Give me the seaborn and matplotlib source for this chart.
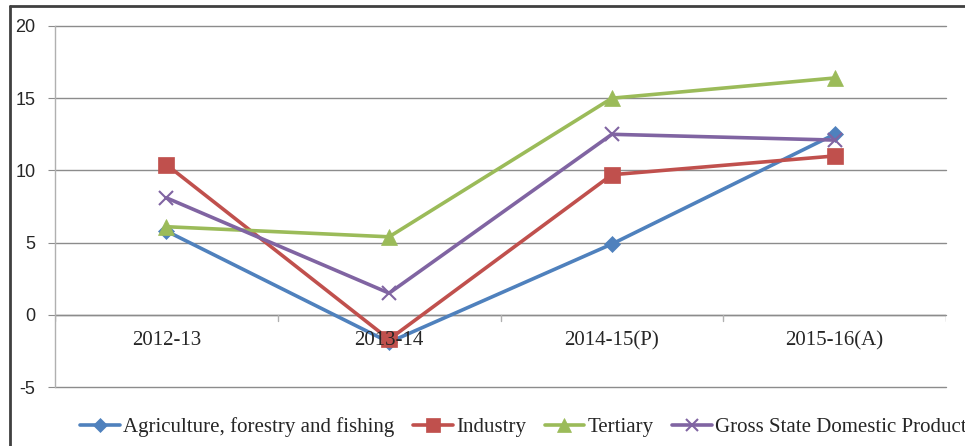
import numpy as np
import pandas as pd
import matplotlib
matplotlib.use("Agg")
import matplotlib.pyplot as plt
import seaborn as sns
from matplotlib.lines import Line2D

years = ["2012-13", "2013-14", "2014-15(P)", "2015-16(A)"]
agriculture = [5.8, -1.9, 4.9, 12.5]
industry = [10.4, -1.7, 9.7, 11.0]
tertiary = [6.1, 5.4, 15.0, 16.4]
gsdp = [8.1, 1.5, 12.5, 12.1]

series_names = ["Agriculture, forestry and fishing", "Industry", "Tertiary",
                "Gross State Domestic Product"]
colors = ["#4F81BD", "#C0504D", "#9BBB59", "#8064A2"]
markers = ["D", "s", "^", "x"]
msizes = [8, 11, 11, 10]

sns.set_style("white")
plt.rcParams["axes.unicode_minus"] = False

fig = plt.figure(figsize=(9.65, 4.46), dpi=100)
ax = fig.add_axes([55 / 965, 1 - 387 / 446, 891 / 965, 361 / 446])

x = np.arange(len(years))
for name, vals, c, m, s in zip(series_names, [agriculture, industry, tertiary, gsdp],
                               colors, markers, msizes):
    df = pd.DataFrame({"x": x, "y": vals})
    sns.lineplot(data=df, x="x", y="y", ax=ax, color=c, lw=2.6, marker=m,
                 markersize=s, markeredgecolor=c, markeredgewidth=1.5 if m == "x" else 0.5,
                 label=name, legend=False)

ax.set_xlim(-0.5, 3.5)
ax.set_ylim(-5, 20)
ax.set_yticks([-5, 0, 5, 10, 15, 20])
ax.yaxis.grid(True, color="#8c8c8c", lw=1)
for gl in ax.get_ygridlines():
    gl.set_clip_on(False)
ax.set_axisbelow(True)
ax.set_xlabel("")
ax.set_ylabel("")
for sp in ["top", "right", "bottom"]:
    ax.spines[sp].set_visible(False)
ax.spines["left"].set_color("#b0b0b0")
ax.spines["left"].set_linewidth(1)

ax.tick_params(axis="y", which="major", length=5, color="#8c8c8c", pad=9,
               labelsize=13, left=True)
for t in ax.get_yticklabels():
    t.set_fontfamily("Liberation Sans")

# x axis at zero with separators and labels placed under the zero line
ax.set_xticks([])
ax.axhline(0, color="#8c8c8c", lw=1, zorder=1)
for b in np.arange(-0.5, 4, 1.0):
    ax.plot([b, b], [0, -0.45], color="#b0b0b0", lw=1, zorder=1)
for xi, lab in zip(x, years):
    ax.text(xi, -1.8, lab, ha="center", va="center", fontsize=15,
            family="Liberation Serif")

handles = [Line2D([], [], color=c, lw=2.6, marker=m, markersize=s * 0.9,
                  markeredgecolor=c, markeredgewidth=1.5 if m == "x" else 0.5)
           for c, m, s in zip(colors, markers, msizes)]
fig.legend(handles, series_names, loc="center left", bbox_to_anchor=(70 / 965, 1 - 427 / 446),
           ncol=4, frameon=False, prop={"family": "Liberation Serif", "size": 15},
           handlelength=1.9, handletextpad=0.15, columnspacing=0.9, borderpad=0)

# outer chart frame
fig.add_artist(Line2D([9.5 / 965, 9.5 / 965], [0, 1 - 6 / 446], color="#404040", lw=2,
                      transform=fig.transFigure))
fig.add_artist(Line2D([9.5 / 965, 1], [1 - 6 / 446, 1 - 6 / 446], color="#404040", lw=2,
                      transform=fig.transFigure))

fig.savefig("out.png", dpi=100)
